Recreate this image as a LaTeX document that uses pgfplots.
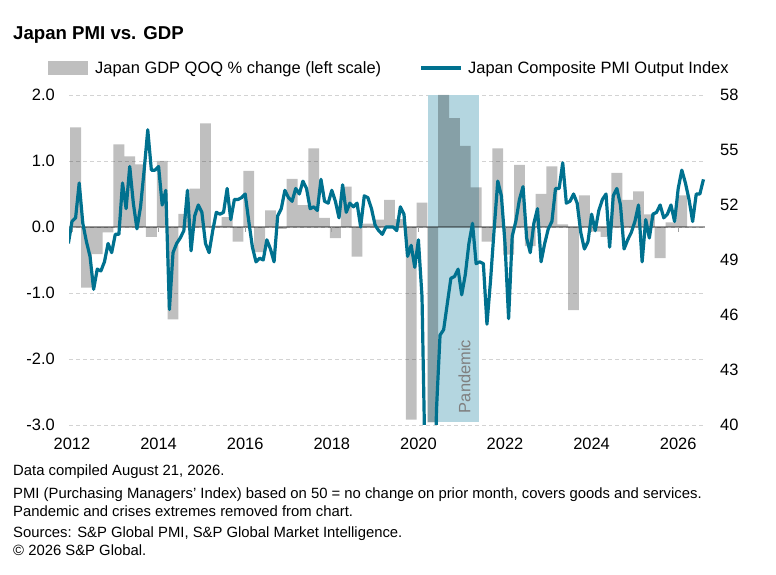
\documentclass[border=0pt]{standalone}
\usepackage{pgfplots}
\pgfplotsset{compat=1.18}
\usepackage{pgfplotstable}
\usepackage{fontspec}
\setmainfont{Liberation Sans}
\definecolor{barfill}{HTML}{BFBFBF}
\definecolor{pmiline}{HTML}{00718F}
\definecolor{band}{HTML}{B4D6E0}
\definecolor{gridc}{HTML}{D3D3D3}
\definecolor{zeroc}{HTML}{A0A0A0}
\definecolor{pandtxt}{HTML}{7F7F7F}

% quarter index q (0 = Q1 2012), GDP QOQ %
\pgfplotstableread{
q gdp
0 1.51
1 -0.92
2 -0.41
3 -0.08
4 1.25
5 1.07
6 0.95
7 -0.15
8 1.00
9 -1.40
10 0.20
11 0.58
12 1.57
13 0.02
14 0.15
15 -0.22
16 0.85
17 -0.38
18 0.25
19 -0.03
20 0.73
21 0.33
22 1.19
23 0.14
24 -0.17
25 0.61
26 -0.45
27 0.05
28 0.11
29 0.41
30 0.12
31 -2.92
32 0.37
33 -2.96
34 2.00
35 1.65
36 1.23
37 0.60
38 -0.22
39 1.19
40 -0.42
41 0.94
42 -0.29
43 0.50
44 0.92
45 0.04
46 -1.26
47 0.48
48 -0.07
49 -0.15
50 0.82
51 0.41
52 0.54
53 0.19
54 -0.47
55 0.07
56 0.48
}\gdpdata

% month index m (0 = Jan 2012), composite PMI
\pgfplotstableread{
m pmi
-1 49.9
0 51.1
1 51.3
2 53.2
3 51.0
4 50.0
5 49.2
6 47.4
7 48.5
8 48.4
9 48.9
10 49.9
11 49.4
12 50.4
13 50.4
14 53.2
15 51.8
16 54.1
17 52.1
18 50.7
19 51.9
20 53.9
21 56.1
22 53.9
23 53.9
24 54.1
25 52.0
26 52.8
27 46.3
28 49.4
29 49.9
30 50.2
31 50.6
32 52.8
33 49.5
34 51.4
35 52.0
36 51.6
37 49.9
38 49.4
39 50.6
40 51.6
41 51.5
42 51.6
43 52.9
44 51.2
45 52.3
46 52.3
47 52.4
48 52.6
49 51.1
50 49.7
51 48.9
52 49.1
53 49.0
54 50.1
55 49.6
56 48.9
57 51.4
58 51.8
59 52.8
60 52.4
61 52.2
62 52.9
63 52.6
64 53.3
65 52.9
66 51.8
67 51.9
68 51.7
69 53.4
70 52.2
71 52.1
72 52.8
73 52.2
74 51.3
75 53.1
76 51.6
77 52.1
78 51.9
79 52.1
80 50.8
81 52.5
82 52.4
83 51.8
84 50.9
85 50.6
86 50.4
87 50.8
88 50.8
89 50.8
90 50.6
91 51.9
92 51.5
93 49.2
94 49.8
95 48.6
96 50.1
97 47.0
98 36.2
99 25.8
100 27.8
101 40.8
102 44.9
103 45.2
104 46.6
105 48.0
106 48.1
107 48.5
108 47.1
109 48.2
110 49.9
111 51.0
112 48.8
113 48.9
114 48.8
115 45.5
116 47.9
117 50.7
118 53.3
119 52.5
120 49.9
121 45.8
122 50.3
123 51.1
124 52.3
125 53.0
126 50.2
127 49.4
128 51.0
129 51.8
130 48.9
131 49.9
132 50.7
133 51.1
134 52.9
135 52.9
136 54.3
137 52.1
138 52.2
139 52.6
140 52.1
141 50.5
142 49.6
143 50.0
144 51.5
145 50.6
146 51.7
147 52.3
148 52.6
149 49.7
150 52.5
151 52.9
152 52.0
153 49.6
154 50.1
155 50.5
156 51.1
157 52.0
158 48.9
159 51.2
160 50.2
161 51.5
162 51.6
163 52.0
164 51.3
165 51.5
166 52.0
167 51.1
168 52.9
169 53.9
170 53.2
171 52.3
172 51.1
173 52.6
174 52.6
175 53.4
}\pmidata

\begin{document}
\begin{tikzpicture}[x=1bp,y=1bp]
\useasboundingbox (0,0) rectangle (776,575);

% title
\node[anchor=base west, inner sep=0pt, font=\fontsize{18.7}{22}\selectfont\bfseries] at (13,535) {Japan PMI vs. GDP};

% legend
\fill[barfill] (48,500) rectangle (88,514);
\node[anchor=base west, inner sep=0pt, font=\fontsize{16.5}{19}\selectfont] at (95,501) {Japan GDP QOQ \% change (left scale)};
\draw[pmiline, line width=3.2bp] (421,507) -- (461,507);
\node[anchor=base west, inner sep=0pt, font=\fontsize{16.5}{19}\selectfont] at (468,501) {Japan Composite PMI Output Index};

\begin{axis}[
  at={(69bp,150bp)}, anchor=south west,
  width=636bp, height=330bp, scale only axis,
  xmin=2011.931, xmax=2026.619,
  ymin=-3, ymax=2,
  axis line style={draw=none},
  major tick length=0pt,
  xtick={2012,2014,2016,2018,2020,2022,2024,2026},
  xticklabels={2012,2014,2016,2018,2020,2022,2024,2026},
  ytick={-3,-2,-1,0,1,2},
  yticklabels={-3.0,-2.0,-1.0,0.0,1.0,2.0},
  ymajorgrids,
  grid style={gridc, dash pattern=on 4bp off 3bp, line width=0.8bp},
  tick label style={font=\fontsize{16.5}{19}\selectfont, text=black},
  xticklabel style={anchor=north, inner sep=0pt, yshift=-13bp},
  yticklabel style={anchor=east, inner sep=0pt, xshift=-14bp},
]
\fill[band] (axis cs:2020.23,-2.96) rectangle (axis cs:2021.39,2);
\addplot[ybar, bar width=0.25, fill=barfill, draw=none, blend mode=multiply]
  table[x expr=2012+(3*\thisrow{q}+1)/12, y=gdp] {\gdpdata};
\addplot[zeroc, line width=1.4bp, blend mode=multiply, mark=none]
  coordinates {(2011.931,0) (2026.619,0)};
\addplot[zeroc, line width=1.2bp, mark=none, unbounded coords=jump]
  coordinates {(2012,0) (2012,-0.075) (2013,nan) (2014,0) (2014,-0.075) (2015,nan)
               (2016,0) (2016,-0.075) (2017,nan) (2018,0) (2018,-0.075) (2019,nan)
               (2020,0) (2020,-0.075) (2021,nan) (2022,0) (2022,-0.075) (2023,nan)
               (2024,0) (2024,-0.075) (2025,nan) (2026,0) (2026,-0.075)};
\end{axis}

\begin{axis}[
  at={(69bp,150bp)}, anchor=south west,
  width=636bp, height=330bp, scale only axis,
  xmin=2011.931, xmax=2026.619,
  ymin=40, ymax=58,
  axis line style={draw=none},
  major tick length=0pt,
  xtick=\empty,
  ytick={40,43,46,49,52,55,58},
  yticklabels={40,43,46,49,52,55,58},
  yticklabel pos=right,
  tick label style={font=\fontsize{16.5}{19}\selectfont, text=black},
  yticklabel style={anchor=west, inner sep=0pt, xshift=15bp},
]
\addplot[pmiline, line width=3.2bp, mark=none, line join=round]
  table[x expr=2012+\thisrow{m}/12, y=pmi] {\pmidata};
\end{axis}

% pandemic label
\node[rotate=90, inner sep=0pt, text=pandtxt, font=\fontsize{16.5}{19}\selectfont] at (464.5,198.5) {Pandemic};

% footnotes
\begin{scope}[every node/.style={anchor=base west, inner sep=0pt, font=\fontsize{14.9}{17}\selectfont}]
\node at (13,99) {Data compiled August 21, 2026.};
\node at (13,76) {PMI (Purchasing Managers' Index) based on 50 = no change on prior month, covers goods and services.};
\node at (13,58) {Pandemic and crises extremes removed from chart.};
\node at (13,37) {Sources: S\&P Global PMI, S\&P Global Market Intelligence.};
\node at (13,19) {© 2026 S\&P Global.};
\end{scope}
\end{tikzpicture}
\end{document}
